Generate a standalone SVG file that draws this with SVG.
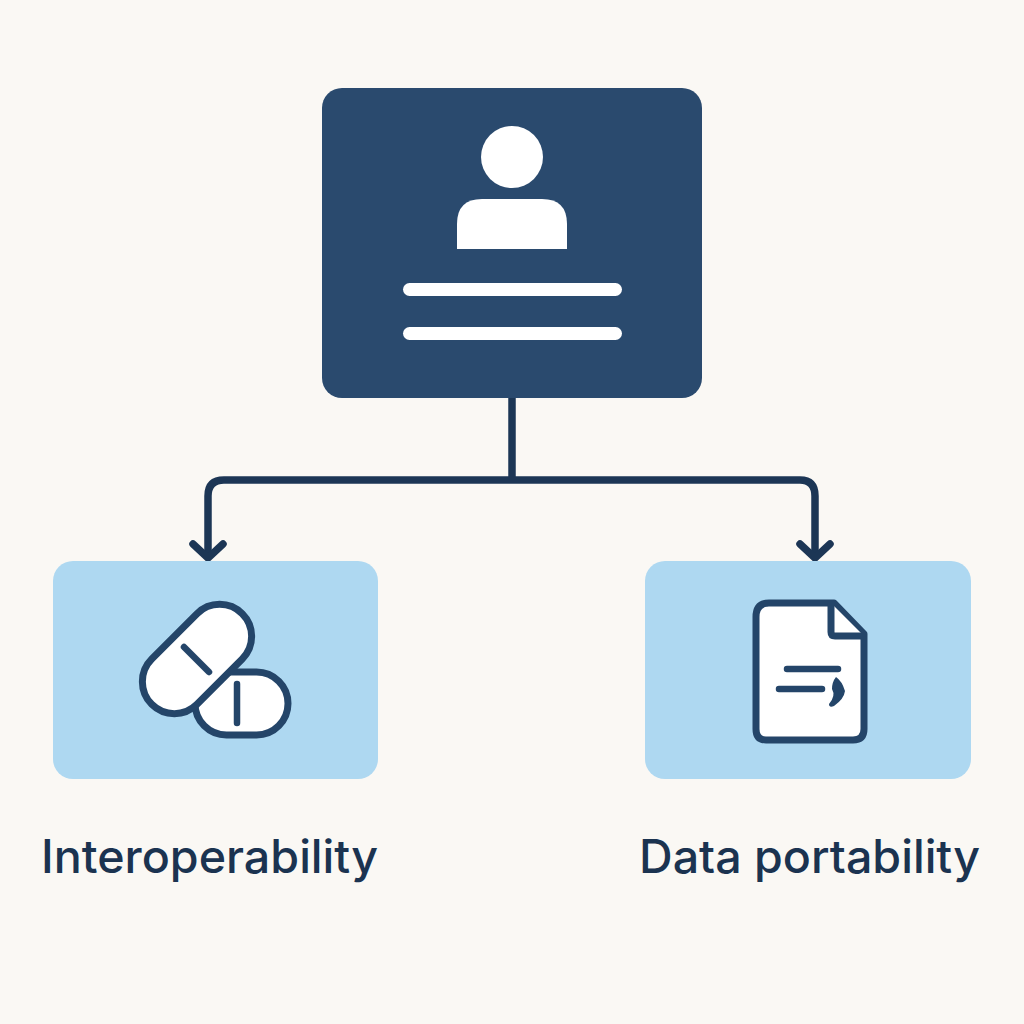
<svg xmlns="http://www.w3.org/2000/svg" width="1024" height="1024" viewBox="0 0 1024 1024">
<style>
.ln{fill:none;stroke:#1c3655;stroke-width:7.5;stroke-linecap:round;stroke-linejoin:round}
.ic{fill:#fff;stroke:#244569;stroke-width:7;stroke-linejoin:round}
.mk{fill:none;stroke:#244569;stroke-width:6.500;stroke-linecap:round}
.card{fill:#aed8f1}
.lb{font-family:"Inter","Noto Sans",sans-serif;font-size:46px;fill:#1b3350;font-weight:500}
</style>
<rect width="1024" height="1024" fill="#faf8f4"/>
<g id="connectors">
<path class="ln" d="M512 398V480M512 480H224Q208 480 208 496V556M512 480H800Q815 480 815 496V556"/>
<path class="ln" d="M193 544L208 558L223 544M800 544L815 558L830 544"/>
</g>
<g id="profile">
<rect x="322" y="88" width="380" height="310" rx="20" fill="#2a4a6e"/>
<circle cx="512" cy="157" r="31" fill="#fff"/>
<path d="M457 249V224Q457 199 482 199H542Q567 199 567 224V249Z" fill="#fff"/>
<rect x="403" y="283" width="219" height="13" rx="6.500" fill="#fff"/>
<rect x="403" y="327" width="219" height="13" rx="6.500" fill="#fff"/>
</g>
<g id="interoperability">
<rect class="card" x="53" y="561" width="325" height="218" rx="20"/>
<rect class="ic" x="195" y="672" width="93" height="63" rx="31.500"/>
<path class="mk" d="M237 684V723"/>
<rect class="ic" x="133" y="627" width="128" height="64" rx="32" transform="rotate(-45 197 659)"/>
<path class="mk" d="M184 647L209 672"/>
<text class="lb" x="41" y="873" textLength="337" lengthAdjust="spacingAndGlyphs">Interoperability</text>
</g>
<g id="data-portability">
<rect class="card" x="645" y="561" width="326" height="218" rx="20"/>
<path class="ic" d="M769 603H834L864 634V729Q864 740 853 740H766Q756 740 756 729V617Q756 603 769 603Z"/>
<path class="ic" d="M831 603V632Q831 636 835 636H864"/>
<path class="mk" d="M787 669H838M779 689H822"/>
<path d="M836 677Q842 681 845 691Q844 699 834 706Q829 708 829 704Q836 696 832 689Q832 682 836 677Z" fill="#244569"/>
<text class="lb" x="639" y="873" textLength="341" lengthAdjust="spacingAndGlyphs">Data portability</text>
</g>
</svg>
